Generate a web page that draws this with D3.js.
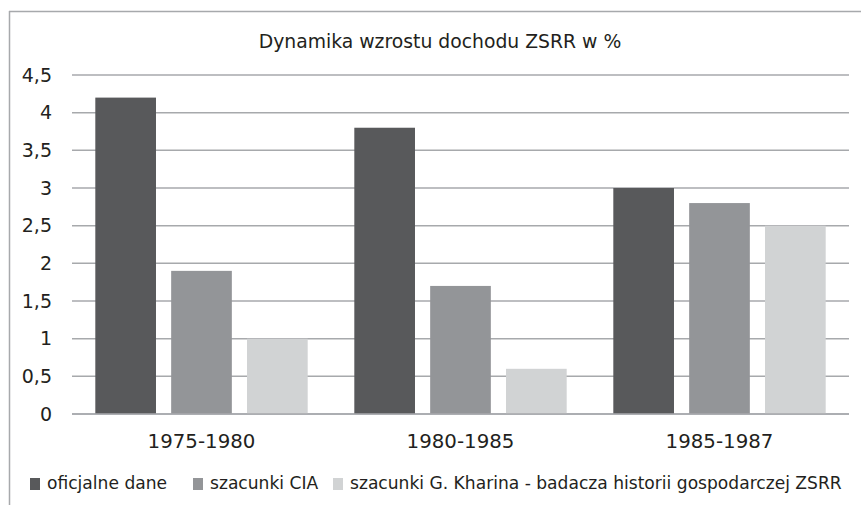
<!DOCTYPE html>
<html>
<head>
<meta charset="utf-8">
<script src="https://cdn.jsdelivr.net/npm/d3@7"></script>
<style>
body { margin: 0; background: #fff; }
text { font-family: "DejaVu Sans", sans-serif; fill: #231f20; }
</style>
</head>
<body>
<div id="chart"></div>
<script>
// chart data
var categories = ["1975-1980", "1980-1985", "1985-1987"];
var seriesNames = ["oficjalne dane", "szacunki CIA", "szacunki G. Kharina - badacza historii gospodarczej ZSRR"];
var seriesColors = ["#58595b", "#939598", "#d1d3d4"];
var oficjalne = [4.2, 3.8, 3.0];
var cia = [1.9, 1.7, 2.8];
var kharin = [1.0, 0.6, 2.5];
var yTicks = [0, 0.5, 1, 1.5, 2, 2.5, 3, 3.5, 4, 4.5];
var title = "Dynamika wzrostu dochodu ZSRR w %";

var width = 861, height = 505;
var plotL = 72, plotR = 849, plotT = 75, plotB = 414;

var svg = d3.select("#chart").append("svg")
	.attr("width", width)
	.attr("height", height);

// frame (top and left edges only, image is cropped)
svg.append("line").attr("x1", 9).attr("x2", width).attr("y1", 11.5).attr("y2", 11.5)
	.attr("stroke", "#a7a9ac").attr("stroke-width", 1.5);
svg.append("line").attr("x1", 9.5).attr("x2", 9.5).attr("y1", 11).attr("y2", height)
	.attr("stroke", "#a7a9ac").attr("stroke-width", 1.5);

svg.append("text")
	.attr("x", 440).attr("y", 48)
	.attr("text-anchor", "middle")
	.style("font-size", "18.8px")
	.text(title);

var y = d3.scaleLinear().domain([0, 4.5]).range([plotB, plotT]);
var x0 = d3.scaleBand().domain(categories).range([plotL, plotR]).paddingInner(0.18).paddingOuter(0.09);
var x1 = d3.scaleBand().domain(d3.range(seriesNames.length)).range([0, x0.bandwidth()]).paddingInner(0.2);

var fmt = function(d) { return String(d).replace(".", ","); };

// gridlines
svg.append("g")
	.selectAll("line").data(yTicks).enter().append("line")
	.attr("x1", plotL).attr("x2", plotR)
	.attr("y1", function(d){return y(d)}).attr("y2", function(d){return y(d)})
	.attr("stroke", "#a7a9ac").attr("stroke-width", 1.5);

var yAxis = svg.append("g")
	.attr("transform", "translate(" + (plotL - 20) + ",0)")
	.call(d3.axisLeft(y).tickValues(yTicks).tickSize(0).tickPadding(0).tickFormat(fmt));
yAxis.select(".domain").remove();
yAxis.selectAll("text").style("font-size", "19px").style("font-family", "DejaVu Sans, sans-serif").attr("fill", "#231f20");

var series = [oficjalne, cia, kharin];
var rows = [];
categories.forEach(function(c, i) {
	series.forEach(function(s, j) { rows.push({cat: c, s: j, v: s[i]}); });
});

svg.append("g").selectAll("rect").data(rows).enter().append("rect")
	.attr("x", function(d){return x0(d.cat) + x1(d.s)})
	.attr("width", x1.bandwidth())
	.attr("y", function(d){return y(d.v)})
	.attr("height", function(d){return plotB - y(d.v)})
	.attr("fill", function(d){return seriesColors[d.s]});

// baseline redrawn over bars
svg.append("line").attr("x1", plotL).attr("x2", plotR).attr("y1", y(0)).attr("y2", y(0))
	.attr("stroke", "#a7a9ac").attr("stroke-width", 1.5);

var xAxis = svg.append("g")
	.attr("transform", "translate(0," + plotB + ")")
	.call(d3.axisBottom(x0).tickSize(0).tickPadding(0));
xAxis.select(".domain").remove();
xAxis.selectAll("text").attr("dy", 0).attr("y", 34)
	.style("font-size", "19.8px").style("font-family", "DejaVu Sans, sans-serif").attr("fill", "#231f20");

// legend
var legendX = [30, 193, 333];
var lg = svg.append("g").selectAll("g").data(seriesNames).enter().append("g")
	.attr("transform", function(d, i){return "translate(" + legendX[i] + ",478)"});
lg.append("rect").attr("width", 10).attr("height", 12)
	.attr("fill", function(d, i){return seriesColors[i]});
lg.append("text").attr("x", 17).attr("y", 10.5)
	.style("font-size", "17.1px")
	.text(function(d){return d});
</script>
</body>
</html>
